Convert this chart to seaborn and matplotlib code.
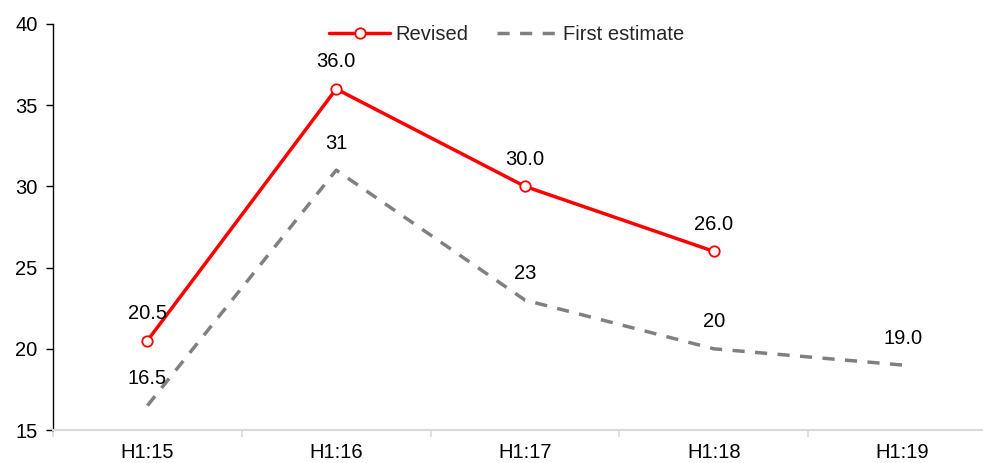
import matplotlib
matplotlib.use("Agg")
import matplotlib.pyplot as plt
import seaborn as sns
import pandas as pd
import numpy as np

categories = ["H1:15", "H1:16", "H1:17", "H1:18", "H1:19"]
revised = [20.5, 36.0, 30.0, 26.0, None]
first_estimate = [16.5, 31, 23, 20, 19.0]
revised_labels = ["20.5", "36.0", "30.0", "26.0", None]
first_labels = ["16.5", "31", "23", "20", "19.0"]

sns.set_theme(style="white")
plt.rcParams['font.family'] = ['Liberation Sans', 'DejaVu Sans']

FS = 14.5
fig = plt.figure(figsize=(9.83, 4.63), dpi=100)
ax = fig.add_axes([53/983, 1-430/463, 944/983, 406/463])

x = np.arange(len(categories))
df_rev = pd.DataFrame({"x": x, "y": revised}).dropna()
df_fe = pd.DataFrame({"x": x, "y": first_estimate})

sns.lineplot(data=df_fe, x="x", y="y", ax=ax, color="#808080", linewidth=2.5,
             linestyle=(0, (3.5, 3)), label="First estimate", zorder=2)
sns.lineplot(data=df_rev, x="x", y="y", ax=ax, color="#ff0000", linewidth=2.5,
             marker="o", markersize=7.5, markerfacecolor="white", markeredgecolor="#ff0000",
             markeredgewidth=1.3, label="Revised", zorder=3)

for xi, yi, lab in zip(x, revised, revised_labels):
    if lab is not None:
        ax.annotate(lab, (xi, yi), xytext=(0, 27), textcoords="offset pixels",
                    ha="center", va="center", fontsize=FS, color="#000000")
for xi, yi, lab in zip(x, first_estimate, first_labels):
    ax.annotate(lab, (xi, yi), xytext=(0, 27), textcoords="offset pixels",
                ha="center", va="center", fontsize=FS, color="#000000")

ax.set_xlim(-0.5, 4.5)
ax.set_ylim(15, 40)
ax.set_yticks([15, 20, 25, 30, 35, 40])
ax.set_xticks(x)
ax.set_xticklabels(categories)
ax.set_xticks(np.arange(-0.5, 5.0, 1.0), minor=True)
ax.tick_params(axis="x", which="both", bottom=True)
ax.tick_params(axis="x", which="major", length=0, labelsize=FS, pad=9, colors="#000000")
ax.tick_params(axis="x", which="minor", length=5, width=1.2, color="#d9d9d9", direction="out")
ax.tick_params(axis="y", length=5, width=1, color="#000000", labelsize=FS, labelcolor="#000000",
               direction="out", left=True, pad=6)
ax.set_xlabel("")
ax.set_ylabel("")
ax.grid(False)
for s in ["top", "right"]:
    ax.spines[s].set_visible(False)
ax.spines["left"].set_color("#000000")
ax.spines["left"].set_linewidth(1)
ax.spines["bottom"].set_color("#d9d9d9")
ax.spines["bottom"].set_linewidth(1.5)

handles, labels = ax.get_legend_handles_labels()
order = [labels.index("Revised"), labels.index("First estimate")]
leg = ax.legend([handles[i] for i in order], [labels[i] for i in order],
                loc="center", ncol=2, frameon=False, fontsize=FS, handlelength=3,
                columnspacing=1.4, handletextpad=0.3, borderaxespad=0, borderpad=0)
leg.set_bbox_to_anchor((507/983, 1-35/463), transform=fig.transFigure)

fig.savefig("out.png", dpi=100)
